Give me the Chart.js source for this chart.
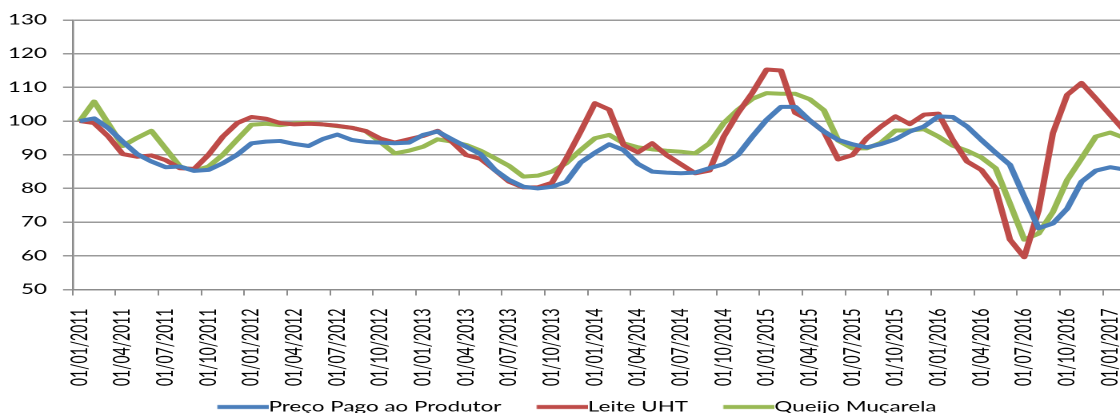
<!DOCTYPE html>
<html>
<head>
<meta charset="utf-8">
<script src="https://cdn.jsdelivr.net/npm/chart.js@4"></script>
<style>
  html, body { margin: 0; padding: 0; background: #fff; overflow: hidden; }
  #frame { width: 1120px; height: 413px; overflow: hidden; }
  /* the source picture is a chart stretched sideways, so draw narrow and stretch */
  #wrap { width: 721px; height: 424px; transform: scaleX(1.6); transform-origin: 0 0; }
</style>
</head>
<body>
<div id="frame"><div id="wrap"><canvas id="lineChart"></canvas></div></div>
<script>
const months = [
  '01/01/2011','01/02/2011','01/03/2011','01/04/2011','01/05/2011','01/06/2011','01/07/2011','01/08/2011','01/09/2011','01/10/2011','01/11/2011','01/12/2011',
  '01/01/2012','01/02/2012','01/03/2012','01/04/2012','01/05/2012','01/06/2012','01/07/2012','01/08/2012','01/09/2012','01/10/2012','01/11/2012','01/12/2012',
  '01/01/2013','01/02/2013','01/03/2013','01/04/2013','01/05/2013','01/06/2013','01/07/2013','01/08/2013','01/09/2013','01/10/2013','01/11/2013','01/12/2013',
  '01/01/2014','01/02/2014','01/03/2014','01/04/2014','01/05/2014','01/06/2014','01/07/2014','01/08/2014','01/09/2014','01/10/2014','01/11/2014','01/12/2014',
  '01/01/2015','01/02/2015','01/03/2015','01/04/2015','01/05/2015','01/06/2015','01/07/2015','01/08/2015','01/09/2015','01/10/2015','01/11/2015','01/12/2015',
  '01/01/2016','01/02/2016','01/03/2016','01/04/2016','01/05/2016','01/06/2016','01/07/2016','01/08/2016','01/09/2016','01/10/2016','01/11/2016','01/12/2016',
  '01/01/2017','01/02/2017','01/03/2017'
];

const precoProdutor = [
  100, 100.8, 97.9, 93.9, 90.2, 88, 86.3, 86.5, 85.2, 85.5, 87.5, 90,
  93.4, 93.9, 94.1, 93.2, 92.6, 94.7, 96, 94.4, 93.8, 93.6, 93.4, 93.6,
  95.9, 96.9, 94.6, 92.4, 90.2, 85.5, 82.5, 80.5, 80, 80.5, 82, 87.7,
  90.6, 93.1, 91.4, 87.3, 85, 84.7, 84.5, 84.7, 86, 87.2, 90, 95.4,
  100.4, 104.2, 104.2, 100.2, 96.9, 94.4, 93.1, 92.2, 93.2, 94.6, 96.9, 98.4,
  101.4, 101.2, 98.4, 94.4, 90.6, 87, 77.5, 68.2, 69.6, 74, 82, 85.3,
  86.3, 85.6, 85
];

const leiteUHT = [
  100, 99.4, 95.4, 90.2, 89.4, 89.8, 88.4, 86, 85.8, 90, 95.4, 99.4,
  101.2, 100.7, 99.4, 99, 99.2, 99, 98.6, 98, 97, 94.8, 93.6, 94.6,
  95.6, 97.1, 93.9, 89.9, 88.8, 85.5, 82, 80.3, 80.3, 81.7, 88.9, 96.9,
  105.3, 103.4, 92.9, 90.7, 93.4, 89.9, 87.2, 84.5, 85.3, 95.4, 102.4, 108.4,
  115.3, 115, 102.4, 100.2, 96.9, 88.6, 89.9, 94.9, 98.4, 101.4, 99.1, 101.9,
  102.2, 94.4, 88, 85.5, 80, 64.8, 59.6, 73.5, 96.4, 107.8, 111.3, 106.7,
  101.9, 97.1, 94
];

const queijoMucarela = [
  100, 105.8, 99.2, 92.6, 95, 97.1, 91.8, 86.5, 85.3, 86.5, 90, 94.5,
  98.9, 99.2, 98.8, 99.3, 99.5, 99, 98.5, 98, 97, 93.8, 90.4, 91.2,
  92.4, 94.6, 93.9, 92.9, 91.2, 89, 86.7, 83.5, 83.8, 85, 87.5, 91.4,
  94.9, 95.9, 93.4, 92.2, 91.6, 91.2, 90.9, 90.4, 93.4, 99.4, 103.4, 106.6,
  108.3, 108.1, 108.1, 106.5, 103.2, 94.2, 91.9, 91.9, 93.6, 97.2, 97.2, 97.6,
  95.4, 92.7, 91.2, 89.2, 86, 75.5, 64.8, 66.6, 73, 82.5, 88.9, 95.4,
  96.6, 95, 94
];

const yTicks = { min: 50, max: 130, step: 10 };

// legend swatch: a short line that runs right up to the label text
function swatch(color) {
    const c = document.createElement('canvas');
    c.width = 44;
    c.height = 8;
    const g = c.getContext('2d');
    g.fillStyle = color;
    g.fillRect(12, 2, 32, 4);
    return c;
}

// rotated date labels need a little more room than the axis box gets
const labelRoom = {
    id: 'labelRoom',
    afterLayout(chart) { chart.scales.x.bottom += 12; }
};

document.addEventListener("DOMContentLoaded", () => {
    Chart.defaults.font.family = 'Lato';
    Chart.defaults.color = '#000';

    const line = (label, data, color) => ({
        label: label,
        data: data,
        borderColor: color,
        backgroundColor: color,
        borderWidth: 4,
        pointRadius: 0,
        tension: 0,
        fill: false,
        borderJoinStyle: 'round',
        pointStyle: swatch(color)
    });

    const ctx = document.getElementById('lineChart').getContext('2d');
    new Chart(ctx, {
        type: 'line',
        data: {
            labels: months,
            datasets: [
                line('Preço Pago ao Produtor', precoProdutor, '#4a7ebb'),
                line('Leite UHT', leiteUHT, '#be4b48'),
                line('Queijo Muçarela', queijoMucarela, '#98b954')
            ]
        },
        plugins: [labelRoom],
        options: {
            responsive: true,
            maintainAspectRatio: false,
            animation: false,
            devicePixelRatio: 2,
            layout: { padding: { top: 20, right: 4.8, left: 0, bottom: 0 } },
            plugins: {
                tooltip: { enabled: false },
                legend: {
                    position: 'bottom',
                    labels: {
                        usePointStyle: true,
                        pointStyleWidth: 30,
                        padding: 17,
                        font: { size: 14 },
                        color: '#000'
                    }
                }
            },
            scales: {
                x: {
                    offset: true,
                    afterFit: (scale) => {
                        scale.height = 93.5;
                        scale.paddingLeft = 0;
                        scale.paddingRight = 0;
                    },
                    grid: {
                        offset: true,
                        drawOnChartArea: false,
                        tickLength: 6,
                        lineWidth: 1,
                        color: (c) => (c.index % 3 === 0 ? '#8c8c8c' : 'rgba(0,0,0,0)')
                    },
                    border: { color: '#8c8c8c', width: 1.3 },
                    ticks: {
                        autoSkip: false,
                        minRotation: 90,
                        maxRotation: 90,
                        padding: 13,
                        font: { size: 14 },
                        color: '#000',
                        callback: function (val, i) {
                            return i % 3 === 0 ? this.getLabelForValue(val) : '';
                        }
                    }
                },
                y: {
                    min: yTicks.min,
                    max: yTicks.max,
                    afterFit: (scale) => { scale.width = 45.4; },
                    grid: { color: '#9a9a9a', lineWidth: 1.5, tickLength: 6 },
                    border: { color: '#8c8c8c', width: 1.3 },
                    ticks: {
                        stepSize: yTicks.step,
                        padding: 10,
                        font: { size: 14 },
                        color: '#000'
                    }
                }
            }
        }
    });
});
</script>
</body>
</html>
